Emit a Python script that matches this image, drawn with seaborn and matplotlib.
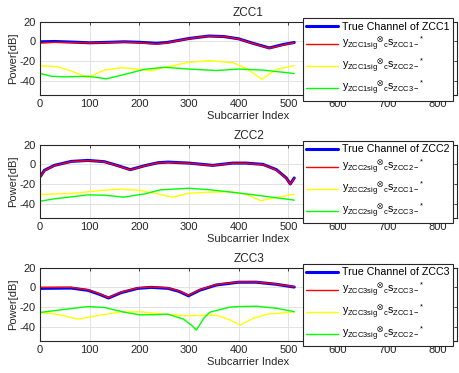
import numpy as np
import pandas as pd
import matplotlib
matplotlib.use('Agg')
import matplotlib.pyplot as plt
import seaborn as sns

# ZCC1 panel
x1_true = [1, 30, 60, 100, 140, 170, 200, 235, 256, 300, 340, 370, 400, 430, 462, 490, 512]
zcc1_true = [-0.3, 0, -0.5, -1.3, -0.8, -0.3, -0.8, -1.8, -1, 3, 5.5, 5, 2.7, -2, -6.5, -3, -1]
zcc1_est = [-1.5, -0.8, -1, -1.5, -1, -0.5, -1.2, -2.7, -1.3, 2.8, 5.5, 5, 2.5, -2.2, -6.8, -3.5, -1.2]
x1_y = [1, 36, 65, 95, 130, 164, 197, 224, 251, 300, 342, 389, 415, 447, 476, 512]
zcc1_x2 = [-24.4, -25.4, -30, -36.3, -28.8, -26.4, -27.8, -29.5, -26, -21, -19.3, -21.4, -27, -38, -28, -24.4]
x1_g = [1, 23, 50, 97, 134, 170, 211, 251, 300, 355, 400, 449, 512]
zcc1_x3 = [-32.2, -35, -35.6, -35, -37.6, -33.2, -28, -26, -27.8, -29.2, -27.8, -28.8, -32.2]

# ZCC2 panel
x2_true = [1, 9, 29, 63, 97, 130, 157, 182, 211, 238, 258, 300, 348, 388, 415, 449, 476, 496, 504, 512]
zcc2_true = [-12, -6, -1, 3, 4, 2.7, -1.3, -5.3, -1.3, 1.7, 2.3, 1.3, -1, 1.3, 1.3, 0, -5.3, -13.7, -19.7, -13.7]
zcc2_est = [-12.5, -6.3, -1.2, 2.8, 3.8, 2.5, -1.5, -5.6, -1.5, 1.5, 2.1, 1.1, -1.2, 1.1, 1.1, -0.2, -5.6, -14, -20, -14]
x2_y = [1, 63, 130, 164, 200, 230, 267, 300, 340, 383, 415, 444, 480, 512]
zcc2_x1 = [-30.3, -29.3, -26, -25, -26, -29, -33, -29, -28, -27.5, -30, -36.5, -33, -30]
x2_g = [1, 29, 97, 130, 168, 211, 242, 300, 340, 383, 444, 512]
zcc2_x3 = [-37, -34.7, -30.7, -31, -33, -29.7, -25.7, -24, -25.5, -27.8, -31.5, -36]

# ZCC3 panel
x3_true = [1, 63, 97, 120, 138, 164, 197, 224, 258, 280, 299, 322, 355, 400, 436, 476, 512]
zcc3_true = [-1, -0.7, -3, -7, -10.7, -5.2, -1, 0, -1, -4, -8.5, -2.8, 2.4, 5.2, 5.2, 3.1, 0.3]
zcc3_est = [0, 0, -2.5, -6.5, -10.3, -4.8, -0.5, 0.3, -0.5, -3.5, -8, -2.3, 2.8, 5.5, 5.4, 3.3, 0.5]
x3_y = [1, 36, 77, 130, 164, 200, 250, 296, 356, 383, 403, 430, 458, 512]
zcc3_x1 = [-25.2, -27.2, -32, -27.2, -24.8, -24.5, -27, -28.5, -28, -32.8, -38, -31, -27, -24.8]
x3_g = [1, 36, 97, 130, 170, 200, 224, 258, 289, 305, 315, 330, 342, 383, 400, 436, 476, 512]
zcc3_x2 = [-25.2, -23, -19.3, -20.3, -25, -27.6, -27.6, -27, -32, -38, -43, -31, -25, -19.8, -19.3, -19, -21, -24.5]

sns.set_theme(style='whitegrid')
plt.rcParams['font.family'] = ['Liberation Sans', 'DejaVu Sans']
plt.rcParams['mathtext.fontset'] = 'custom'
plt.rcParams['mathtext.rm'] = 'Liberation Sans'
plt.rcParams['mathtext.it'] = 'Liberation Sans'
plt.rcParams['mathtext.default'] = 'regular'
plt.rcParams['mathtext.fallback'] = 'stixsans'
plt.rcParams['axes.unicode_minus'] = False

dark = '#262626'

def lbl(sig, ref):
    return r'$y_{ZCC%dsig}{}^{\otimes}{}_{c}s_{ZCC%d-}{}^{*}$' % (sig, ref)

panels = [
    (1, [(x1_true, zcc1_true, 'blue', 2.2, 'True Channel of ZCC1'),
         (x1_true, zcc1_est, 'red', 1.0, lbl(1, 1)),
         (x1_y, zcc1_x2, 'yellow', 1.0, lbl(1, 2)),
         (x1_g, zcc1_x3, 'lime', 1.0, lbl(1, 3))]),
    (2, [(x2_true, zcc2_true, 'blue', 2.2, 'True Channel of ZCC2'),
         (x2_true, zcc2_est, 'red', 1.0, lbl(2, 2)),
         (x2_y, zcc2_x1, 'yellow', 1.0, lbl(2, 1)),
         (x2_g, zcc2_x3, 'lime', 1.0, lbl(2, 3))]),
    (3, [(x3_true, zcc3_true, 'blue', 2.2, 'True Channel of ZCC3'),
         (x3_true, zcc3_est, 'red', 1.0, lbl(3, 3)),
         (x3_y, zcc3_x1, 'yellow', 1.0, lbl(3, 1)),
         (x3_g, zcc3_x2, 'lime', 1.0, lbl(3, 2))]),
]

fig = plt.figure(figsize=(4.59, 3.73), dpi=100)
bottoms = [0.745, 0.4155, 0.0858]

for (k, series), b in zip(panels, bottoms):
    ax = fig.add_axes([0.087, b, 0.909, 0.197])
    for xs, ys, c, lw, name in series:
        sns.lineplot(x=xs, y=ys, ax=ax, color=c, lw=lw, label=name)
    ax.set_xlim(0, 840)
    ax.set_ylim(-54, 20)
    ax.set_xticks([0, 100, 200, 300, 400, 500, 600, 700, 800])
    ax.set_yticks([20, 0, -20, -40])
    ax.set_facecolor('white')
    ax.grid(True, color='#dedede', lw=0.6)
    for s in ax.spines.values():
        s.set_color(dark)
        s.set_linewidth(0.8)
    ax.tick_params(direction='in', length=2.5, width=0.6, colors=dark,
                   labelsize=8, top=True, right=True, pad=3, labelcolor=dark)
    ax.set_title('ZCC%d' % k, fontsize=8.5, color=dark, pad=4)
    ax.set_xlabel('Subcarrier Index', fontsize=8, color=dark, labelpad=1)
    ax.set_ylabel('Power[dB]', fontsize=8, color=dark, labelpad=1)
    leg = ax.legend(loc='upper right', bbox_to_anchor=(0.99, 1.045), fontsize=7.7,
                    frameon=True, fancybox=False, framealpha=1, borderpad=0.3,
                    labelspacing=0.35, handlelength=3.0, handletextpad=0.4,
                    borderaxespad=0)
    leg.get_frame().set_edgecolor(dark)
    leg.get_frame().set_linewidth(0.8)
    for t in leg.get_texts():
        t.set_color('black')

fig.savefig('out.png', dpi=100)
